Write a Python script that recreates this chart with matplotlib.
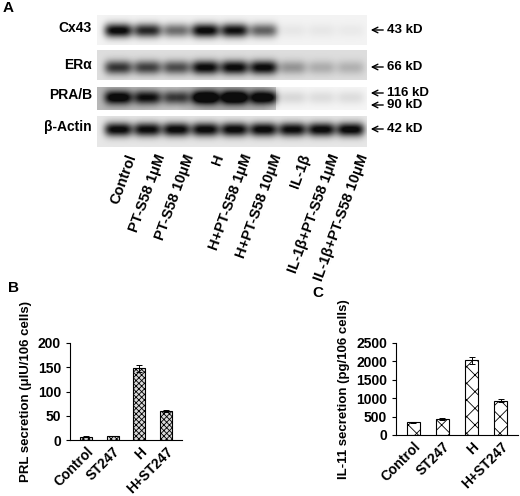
import numpy as np
import matplotlib
matplotlib.use("Agg")
import matplotlib.pyplot as plt

plt.rcParams['font.family'] = ['Liberation Sans', 'DejaVu Sans']
plt.rcParams['font.weight'] = 'bold'
plt.rcParams['axes.labelweight'] = 'bold'
plt.rcParams['hatch.linewidth'] = 0.6

# blot lanes and band strengths (0..1)
lanes = ["Control", "PT-S58 1μM", "PT-S58 10μM", "H", "H+PT-S58 1μM",
         "H+PT-S58 10μM", "IL-1β", "IL-1β+PT-S58 1μM", "IL-1β+PT-S58 10μM"]
proteins = ["Cx43", "ERα", "PRA/B", "β-Actin"]
cx43 = [1.0, 0.85, 0.55, 1.0, 0.95, 0.6, 0.05, 0.05, 0.04]
era = [0.7, 0.65, 0.6, 0.9, 0.9, 0.9, 0.3, 0.2, 0.18]
prab = [0.85, 0.75, 0.6, 1.0, 1.0, 0.9, 0.12, 0.1, 0.1]
actin = [0.95, 0.93, 0.95, 0.95, 0.95, 0.95, 0.93, 0.95, 0.97]
markers = [["43 kD"], ["66 kD"], ["116 kD", "90 kD"], ["42 kD"]]

# panel B / C
groups = ["Control", "ST247", "H", "H+ST247"]
prl = [7, 8, 148, 60]
prl_err = [0.5, 0.5, 7, 2]
il11 = [350, 440, 2030, 930]
il11_err = [15, 20, 90, 40]

W, H = 520, 496
fig = plt.figure(figsize=(5.2, 4.96), dpi=100)

# --- panel A, drawn in pixel coordinates
ax = fig.add_axes([0, 0, 1, 1])
ax.set_xlim(0, W)
ax.set_ylim(H, 0)
ax.axis('off')

x0, x1 = 97, 367
lane_x = np.linspace(118, 350, len(lanes))
strips = [(15, 45, cx43, 0.05), (50, 80, era, 0.14), (87, 110, prab, 0.04), (116, 147, actin, 0.1)]
band_y = [[30], [67], [97], [129]]
xs = np.arange(x0, x1)
for i, (top, bot, vals, bg) in enumerate(strips):
    ys = np.arange(top, bot)
    X, Y = np.meshgrid(xs, ys)
    img = np.full(X.shape, bg)
    for j, v in enumerate(vals):
        for yc in band_y[i]:
            img += v * np.exp(-((X - lane_x[j]) / 14) ** 4) * np.exp(-((Y - yc) / 7) ** 2)
    if i == 2:
        # dark smear behind the first six lanes
        img += 0.3 * np.interp(xs, lane_x, vals)[None, :] * (X < 276)
    ax.imshow(np.clip(img, 0, 1), cmap='gray_r', vmin=0, vmax=1.05,
              extent=[x0, x1, bot, top], aspect='auto', interpolation='bilinear')
    ax.text(92, band_y[i][0] - 2, proteins[i], ha='right', va='center', fontsize=10)
    mk_y = band_y[i] if i != 2 else [93, 105]
    for yy, lab in zip(mk_y, markers[i]):
        ax.annotate("", xy=(368, yy), xytext=(386, yy),
                    arrowprops=dict(arrowstyle='->', lw=1, color='black'))
        ax.text(387, yy, lab, ha='left', va='center', fontsize=9.5)

for j, lab in enumerate(lanes):
    ax.text(lane_x[j] + 8, 152, lab, rotation=70, ha='right', va='top',
            rotation_mode='anchor', fontsize=10.5)

ax.text(3, 8, "A", fontsize=11, va='center')
ax.text(8, 288, "B", fontsize=11, va='center')
ax.text(312, 293, "C", fontsize=11, va='center')

# --- panel B
axb = fig.add_axes([70 / W, 1 - 440 / H, 112 / W, 97 / H])
pos = np.arange(len(groups))
axb.bar(pos, prl, width=0.45, yerr=prl_err, capsize=2.5, color='#d9d9d9',
        edgecolor='black', linewidth=0.8, hatch='xxxxxx',
        error_kw=dict(lw=0.7, capthick=0.7))
axb.set_ylim(0, 200)
axb.set_yticks([0, 50, 100, 150, 200])
axb.set_ylabel("PRL secretion (μIU/106 cells)", fontsize=9.5)

# --- panel C
axc = fig.add_axes([396 / W, 1 - 435 / H, 122 / W, 92 / H])
axc.bar(pos, il11, width=0.45, yerr=il11_err, capsize=2.5, color='white',
        edgecolor='black', linewidth=0.8, hatch='xx',
        error_kw=dict(lw=0.7, capthick=0.7))
axc.set_ylim(0, 2500)
axc.set_yticks(range(0, 2501, 500))
axc.set_ylabel("IL-11 secretion (pg/106 cells)", fontsize=9.5)

for a in (axb, axc):
    a.set_xticks(pos)
    a.set_xticklabels(groups, rotation=45, ha='right', rotation_mode='anchor', fontsize=10)
    a.set_xlim(-0.6, 3.6)
    a.spines['top'].set_visible(False)
    a.spines['right'].set_visible(False)
    a.tick_params(axis='x', length=0)
    a.tick_params(axis='y', labelsize=10, length=3)

fig.savefig("out.png", dpi=100)
